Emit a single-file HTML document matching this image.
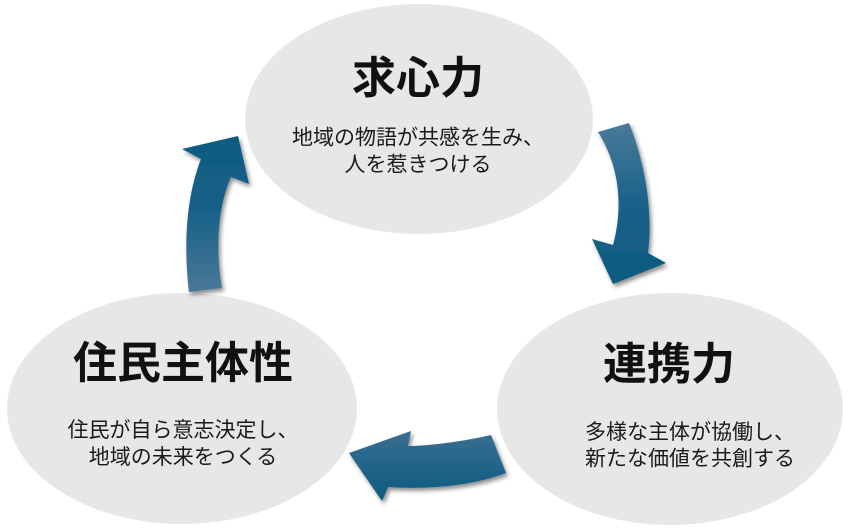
<!DOCTYPE html>
<html>
<head>
<meta charset="utf-8">
<style>
html,body{margin:0;padding:0;background:#fff;}
svg{display:block;}
text{font-family:"Liberation Sans","Noto Sans CJK JP",sans-serif;}
.t{font-size:44px;font-weight:bold;fill:#111;}
.b{font-size:21px;fill:#1a1a1a;}
</style>
</head>
<body>
<svg width="850" height="530" viewBox="0 0 850 530" xmlns="http://www.w3.org/2000/svg">
<defs>
<filter id="sh" x="-20%" y="-20%" width="140%" height="140%">
<feDropShadow dx="2" dy="3" stdDeviation="2" flood-color="#000" flood-opacity="0.45"/>
</filter>
<linearGradient id="g1" x1="0" y1="0" x2="0" y2="1">
<stop offset="0" stop-color="#4a7a99"/>
<stop offset="0.5" stop-color="#1a6289"/>
<stop offset="1" stop-color="#0c5a80"/>
</linearGradient>
<linearGradient id="g2" x1="0" y1="0" x2="0" y2="1">
<stop offset="0" stop-color="#3a6f92"/>
<stop offset="1" stop-color="#0b5a80"/>
</linearGradient>
<linearGradient id="g3" x1="0" y1="0" x2="0" y2="1">
<stop offset="0" stop-color="#0c5a80"/>
<stop offset="0.5" stop-color="#1a6289"/>
<stop offset="1" stop-color="#4a7898"/>
</linearGradient>
</defs>

<ellipse cx="419" cy="119" rx="174" ry="115" fill="#e7e7e7"/>
<ellipse cx="182" cy="408.5" rx="175" ry="115.5" fill="#e7e7e7"/>
<ellipse cx="670" cy="409" rx="173" ry="116" fill="#e7e7e7"/>

<path filter="url(#sh)" fill="url(#g1)" d="M598,132 L629,123 C642,155 654,205 648,253 L666,263 L613,284 L592,239 L613,245 C622,212 622,170 598,132 Z"/>
<path filter="url(#sh)" fill="url(#g2)" d="M491,435 C465,441 430,446 408,446 L411,431 L349,453 L382,501 L388,487 C430,490 475,485 506,473 Z"/>
<path filter="url(#sh)" fill="url(#g3)" d="M189,292 C184,250 185,200 201,159 L182,149 L238,136 L249,184 L231,177 C218,205 215,250 222,288 Z"/>

<text class="t" x="418" y="93" text-anchor="middle">求心力</text>
<text class="b" x="418" y="144.5" text-anchor="middle">地域の物語が共感を生み、</text>
<text class="b" x="418" y="171.5" text-anchor="middle">人を惹きつける</text>

<text class="t" x="183" y="378" text-anchor="middle">住民主体性</text>
<text class="b" x="183" y="437" text-anchor="middle">住民が自ら意志決定し、</text>
<text class="b" x="183" y="464" text-anchor="middle">地域の未来をつくる</text>

<text class="t" x="669" y="379" text-anchor="middle">連携力</text>
<text class="b" x="690" y="439" text-anchor="middle">多様な主体が協働し、</text>
<text class="b" x="690" y="465.5" text-anchor="middle">新たな価値を共創する</text>
</svg>
</body>
</html>
